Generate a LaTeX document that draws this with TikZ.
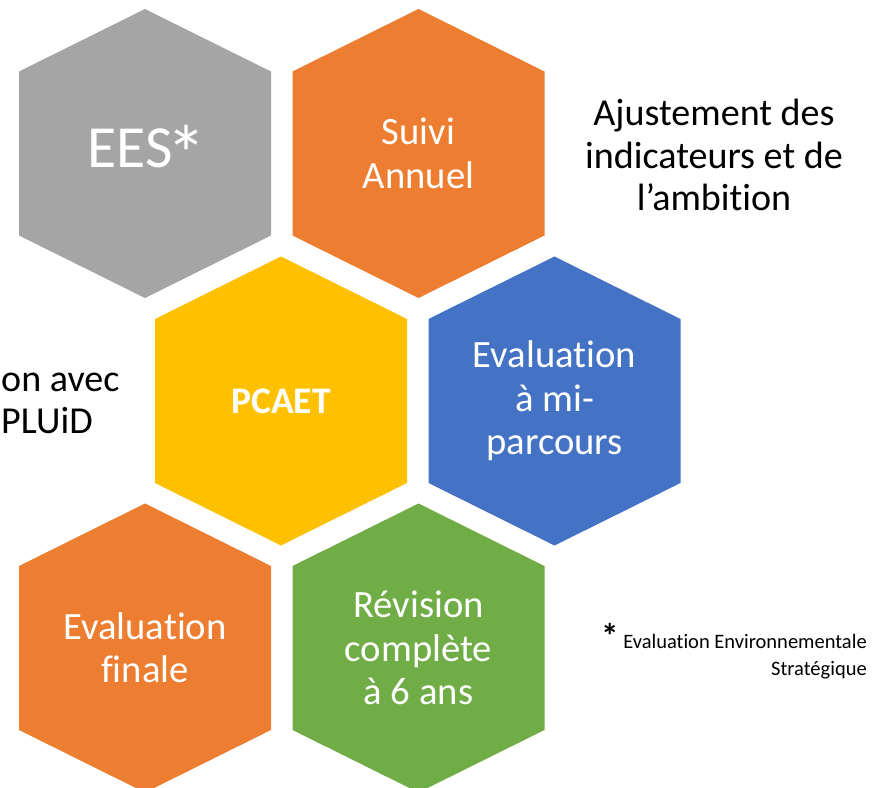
\documentclass[tikz,border=0pt]{standalone}
\usepackage{fontspec}
\setmainfont{Carlito}[Ligatures={NoCommon}, RawFeature={-liga;-clig;-calt}]
\usetikzlibrary{calc}

\definecolor{eesgray}{HTML}{A5A5A5}
\definecolor{cellorange}{HTML}{ED7D31}
\definecolor{cellyellow}{HTML}{FFC000}
\definecolor{cellblue}{HTML}{4472C4}
\definecolor{cellgreen}{HTML}{70AD47}

\newcommand{\eesmark}{\raisebox{-0.25em}{\scalebox{1.35}{*}}}

\tikzset{
  hexlabel/.style={text=white, align=center, inner sep=0pt,
    font=\fontsize{33}{37}\selectfont},
  sidetext/.style={text=black, inner sep=0pt,
    font=\fontsize{32.5}{36}\selectfont},
}

\begin{document}
\begin{tikzpicture}[x=0.03cm, y=-0.03cm]
      \useasboundingbox (0,0) rectangle (883,788);
      \clip (0,0) rectangle (883,788);

      % honeycomb cells
      \foreach \cx/\cy/\col in {145/153.5/eesgray, 418.5/153.5/cellorange,
          281/401/cellyellow, 554.5/401/cellblue,
          145/648/cellorange, 418.5/648/cellgreen}
        \fill[\col] (\cx,\cy-144.5) -- ++(126,62.5) -- ++(0,164)
          -- (\cx,\cy+144.5) -- ++(-126,-62.5) -- ++(0,-164) -- cycle;

      \node[hexlabel, font=\fontsize{51}{55}\selectfont] (ees) at (147,153.5){EES\kern-0.1em\eesmark};
      \node[hexlabel] (suivi) at (418.5,153.5){Suivi\\Annuel};
      \node[hexlabel, font=\bfseries\fontsize{32}{36}\selectfont] (pcaet) at (281,401){PCAET};
      \node[hexlabel] (mip) at (554.5,401){Evaluation\\à mi-\\parcours};
      \node[hexlabel] (finale) at (145,648){Evaluation\\finale};
      \node[hexlabel] (revision) at (418.5,648){Révision\\complète\\à 6 ans};

      % texts around
      \node[sidetext, align=center] (ajust) at (714,155){Ajustement des\\indicateurs et de\\l’ambition};
      \node[sidetext, align=left, anchor=west] (pluid) at (1,403){on avec\\PLUiD};
      \node[text=black, align=right, anchor=east, inner sep=0pt,
        font=\fontsize{17.5}{23}\selectfont] (note) at (867,651)
        {{\fontsize{30}{30}\selectfont\bfseries *}\ Evaluation Environnementale\\Stratégique};

    \end{tikzpicture}
\end{document}
